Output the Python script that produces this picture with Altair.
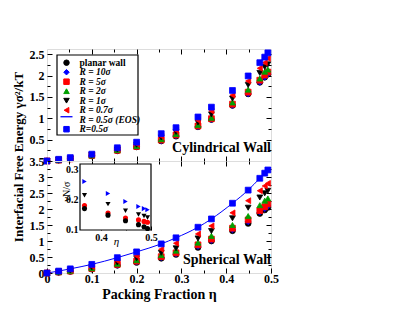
import altair as alt
import pandas as pd

FONT = "Liberation Serif"

# packing fractions of the simulation points
ETA = [0.0, 0.026, 0.052, 0.1, 0.157, 0.2, 0.255, 0.288, 0.337, 0.367, 0.414, 0.449, 0.475, 0.486, 0.493]

SERIES = ["planar wall", "R = 10σ", "R = 5σ", "R = 2σ", "R = 1σ", "R = 0.7σ", "R = 0.5σ (EOS)", "R=0.5σ"]
COLORS = ["#000000", "#0000ff", "#ff0000", "#00a000", "#000000", "#ff0000", "#0000ff", "#0000ff"]
SHAPES = ["circle", "diamond", "square", "triangle-up", "triangle-down", "triangle-left", "stroke", "square"]
EOS_LABEL = "R = 0.5σ (EOS)"

# Cylindrical wall
CYL_PLANAR = [0, 0.02, 0.05, 0.12, 0.24, 0.33, 0.47, 0.58, 0.80, 0.97, 1.30, 1.57, 1.84, 1.96, 2.03]
CYL_R10 = [0, 0.02, 0.05, 0.12, 0.24, 0.34, 0.47, 0.59, 0.80, 0.97, 1.30, 1.57, 1.84, 1.96, 2.03]
CYL_R5 = [0, 0.02, 0.05, 0.13, 0.25, 0.34, 0.49, 0.61, 0.82, 0.99, 1.33, 1.61, 1.89, 2.01, 2.08]
CYL_R2 = [0, 0.02, 0.06, 0.13, 0.26, 0.35, 0.51, 0.63, 0.84, 1.01, 1.37, 1.67, 1.93, 2.09, 2.14]
CYL_R1 = [0, 0.03, 0.06, 0.14, 0.27, 0.38, 0.55, 0.68, 0.90, 1.09, 1.46, 1.78, 2.06, 2.20, 2.26]
CYL_R07 = [0, 0.03, 0.07, 0.15, 0.29, 0.40, 0.58, 0.72, 0.95, 1.17, 1.54, 1.87, 2.17, 2.30, 2.40]
CYL_R05 = [0, 0.04, 0.08, 0.16, 0.31, 0.44, 0.64, 0.78, 1.03, 1.26, 1.65, 1.99, 2.30, 2.43, 2.53]

# Spherical wall
SPH_PLANAR = [0, 0.02, 0.05, 0.12, 0.24, 0.33, 0.46, 0.58, 0.80, 1.00, 1.32, 1.55, 1.86, 1.97, 2.05]
SPH_R10 = [0, 0.02, 0.05, 0.13, 0.25, 0.34, 0.48, 0.60, 0.83, 1.02, 1.35, 1.60, 1.90, 2.01, 2.09]
SPH_R5 = [0, 0.03, 0.06, 0.14, 0.27, 0.37, 0.51, 0.63, 0.88, 1.06, 1.40, 1.66, 1.95, 2.07, 2.16]
SPH_R2 = [0, 0.03, 0.07, 0.15, 0.29, 0.40, 0.56, 0.70, 0.95, 1.16, 1.50, 1.78, 2.12, 2.26, 2.33]
SPH_R1 = [0, 0.04, 0.08, 0.18, 0.33, 0.46, 0.63, 0.77, 1.08, 1.31, 1.71, 2.04, 2.36, 2.49, 2.57]
SPH_R07 = [0, 0.05, 0.10, 0.21, 0.38, 0.53, 0.74, 0.93, 1.22, 1.47, 1.88, 2.26, 2.57, 2.72, 2.80]
SPH_R05 = [0, 0.06, 0.13, 0.27, 0.48, 0.66, 0.91, 1.10, 1.43, 1.69, 2.18, 2.59, 2.96, 3.12, 3.22]

# EOS curve for R = 0.5 sigma (spherical)
EOS_ETA = [0.0, 0.026, 0.052, 0.1, 0.157, 0.2, 0.255, 0.288, 0.337, 0.367, 0.414, 0.449, 0.475, 0.486, 0.493, 0.5]
EOS_VAL = [0, 0.06, 0.13, 0.27, 0.48, 0.66, 0.91, 1.10, 1.43, 1.69, 2.18, 2.59, 2.96, 3.12, 3.22, 3.30]

# Inset
IN_ETA = [0.367, 0.414, 0.449, 0.475, 0.486, 0.493]
IN_BLUE = [0.261, 0.221, 0.194, 0.177, 0.170, 0.166]
IN_BLACK_TRI = [0.215, 0.185, 0.163, 0.150, 0.145, 0.140]
IN_RED = [0.180, 0.155, 0.138, 0.132, 0.127, 0.124]
IN_BLACK_CIRC = [0.170, 0.148, 0.129, 0.116, 0.109, 0.103]
IN_SERIES = ["a", "b", "c", "d"]
IN_COLORS = ["#0000ff", "#000000", "#ff0000", "#000000"]
IN_SHAPES = ["triangle-right", "triangle-down", "circle", "circle"]

X_LABELS = [0, 0.1, 0.2, 0.3, 0.4, 0.5]
X_MAJOR = [0.1, 0.2, 0.3, 0.4]
X_MINOR = [0.05, 0.15, 0.25, 0.35, 0.45]
TOP_LABELS = [0.5, 1, 1.5, 2, 2.5]
TOP_MINOR = [0.25, 0.75, 1.25, 1.75, 2.25]
BOT_LABELS = [0, 0.5, 1, 1.5, 2, 2.5, 3, 3.5]
BOT_MAJOR = [0.5, 1, 1.5, 2, 2.5, 3]
BOT_MINOR = [0.25, 0.75, 1.25, 1.75, 2.25, 2.75, 3.25]

W, H = 224, 112
TOP_DOM = [0, 2.62]
BOT_DOM = [0, 3.5]


def long_df(cols):
    rows = []
    for name, vals in cols:
        for e, v in zip(ETA, vals):
            rows.append({"eta": e, "val": v, "series": name})
    return pd.DataFrame(rows)


cyl_df = long_df([("planar wall", CYL_PLANAR), ("R = 10σ", CYL_R10), ("R = 5σ", CYL_R5),
                  ("R = 2σ", CYL_R2), ("R = 1σ", CYL_R1), ("R = 0.7σ", CYL_R07), ("R=0.5σ", CYL_R05)])
sph_df = long_df([("planar wall", SPH_PLANAR), ("R = 10σ", SPH_R10), ("R = 5σ", SPH_R5),
                  ("R = 2σ", SPH_R2), ("R = 1σ", SPH_R1), ("R = 0.7σ", SPH_R07), ("R=0.5σ", SPH_R05)])
eos_df = pd.DataFrame({"eta": EOS_ETA, "val": EOS_VAL})
in_rows = []
for name, vals in zip(IN_SERIES, [IN_BLUE, IN_BLACK_TRI, IN_RED, IN_BLACK_CIRC]):
    for e, v in zip(IN_ETA, vals):
        in_rows.append({"eta": e, "val": v, "series": name})
in_df = pd.DataFrame(in_rows)
leg_df = pd.DataFrame({"series": SERIES})


def tick_axis(orient, values, size, labeled=False, **kw):
    d = dict(orient=orient, values=values, tickSize=size, offset=-size, domain=False,
             grid=False, labels=labeled, ticks=True, tickColor="black", tickWidth=1,
             title=None, labelFlush=False, labelOverlap=False)
    if labeled:
        d.update(labelFont=FONT, labelFontSize=12, labelFontWeight="bold",
                 labelColor="black", format="~g")
    d.update(kw)
    return alt.Axis(**d)


def xenc(axis, dom=(0, 0.5)):
    return alt.X("eta:Q", scale=alt.Scale(domain=list(dom), nice=False, zero=False), axis=axis)


def yenc(dom, axis):
    return alt.Y("val:Q", scale=alt.Scale(domain=list(dom), nice=False, zero=False), axis=axis)


def dummy(df, dom, xaxis, yaxis):
    return alt.Chart(df).mark_point(opacity=0).encode(x=xenc(xaxis), y=yenc(dom, yaxis))


def series_enc():
    return dict(
        fill=alt.Fill("series:N", scale=alt.Scale(domain=SERIES, range=COLORS), legend=None),
        stroke=alt.Stroke("series:N", scale=alt.Scale(domain=SERIES, range=COLORS), legend=None),
        shape=alt.Shape("series:N", scale=alt.Scale(domain=SERIES, range=SHAPES), legend=None),
    )


def points(df, dom, xaxis, yaxis):
    return alt.Chart(df).mark_point(filled=True, size=34, strokeWidth=0.8, opacity=1).encode(
        x=xenc(xaxis), y=yenc(dom, yaxis), **series_enc())


def label_text(txt, x, y, **kw):
    return alt.Chart(pd.DataFrame({"t": [txt]})).mark_text(font=FONT, fontWeight="bold", color="black", **kw).encode(
        text="t:N", x=alt.value(x), y=alt.value(y))


# ---------------- manual legend (top panel) ----------------
leg_y = alt.Y("series:N", scale=alt.Scale(domain=SERIES, range=[13.7, 80.2], padding=0), axis=None)
leg_box = alt.Chart(pd.DataFrame({"k": [0]})).mark_rect(
    fill="white", stroke="black", strokeWidth=1.2).encode(
    x=alt.value(10), x2=alt.value(91), y=alt.value(6), y2=alt.value(86))
leg_sym = alt.Chart(leg_df).transform_filter(alt.datum.series != EOS_LABEL).mark_point(
    filled=True, size=30, strokeWidth=1, opacity=1).encode(
    x=alt.value(19.5), y=leg_y, **series_enc())
leg_line = alt.Chart(leg_df).transform_filter(alt.datum.series == EOS_LABEL).mark_rule(
    color="#0000ff", strokeWidth=1.3).encode(x=alt.value(13.5), x2=alt.value(25.5), y=leg_y)
leg_txt_plain = alt.Chart(leg_df).transform_filter(alt.datum.series == "planar wall").mark_text(
    font=FONT, fontWeight="bold", fontSize=9.5, align="left", baseline="middle", color="black").encode(
    x=alt.value(32.5), y=leg_y, text="series:N")
leg_txt_ital = alt.Chart(leg_df).transform_filter(alt.datum.series != "planar wall").mark_text(
    font=FONT, fontWeight="bold", fontStyle="italic", fontSize=9.5, align="left", baseline="middle",
    color="black").encode(x=alt.value(32.5), y=leg_y, text="series:N")

# ---------------- top panel (cylindrical) ----------------
top = alt.layer(
    points(cyl_df, TOP_DOM,
           tick_axis("bottom", X_MAJOR, 5),
           tick_axis("left", TOP_LABELS, 5, labeled=True, labelPadding=3)),
    dummy(cyl_df, TOP_DOM, tick_axis("top", X_MAJOR, 5), tick_axis("right", TOP_LABELS, 5)),
    dummy(cyl_df, TOP_DOM, tick_axis("bottom", X_MINOR, 3), tick_axis("left", TOP_MINOR, 3)),
    dummy(cyl_df, TOP_DOM, tick_axis("top", X_MINOR, 3), tick_axis("right", TOP_MINOR, 3)),
    leg_box, leg_sym, leg_line, leg_txt_plain, leg_txt_ital,
    label_text("Cylindrical Wall", W, 103, align="right", baseline="alphabetic", fontSize=14),
).resolve_scale(x="independent", y="independent").properties(width=W, height=H)

# ---------------- bottom panel (spherical) ----------------
in_x = alt.Scale(domain=[0.358, 0.5], range=[33, 104], nice=False, zero=False)
in_y = alt.Scale(domain=[0.098, 0.32], range=[69, 3], nice=False, zero=False)

inset_axis_kw = dict(labelFont=FONT, labelFontSize=10, labelFontWeight="bold", labelColor="black",
                     format="~g")

inset_pts = alt.Chart(in_df).mark_point(filled=True, size=26, opacity=1).encode(
    x=alt.X("eta:Q", scale=in_x, axis=alt.Axis(
        orient="bottom", values=[0.4, 0.5], tickSize=4, offset=-47, domain=False, grid=False,
        tickColor="black", labelPadding=2, labelFlush=False, labelOverlap=False,
        title="η", titleFont=FONT, titleFontSize=11, titleFontStyle="italic",
        titleFontWeight="normal", titleX=69, titleY=15, titleBaseline="middle", **inset_axis_kw)),
    y=alt.Y("val:Q", scale=in_y, axis=alt.Axis(
        orient="left", values=[0.1, 0.2, 0.3], tickSize=4, offset=-37, domain=False, grid=False,
        tickColor="black", labelPadding=2, labelFlush=False, labelOverlap=False,
        title="νN/σ", titleFont=FONT, titleFontSize=10, titleFontWeight="normal",
        titleX=-18, titleY=30, titleAngle=270, titleBaseline="middle", **inset_axis_kw)),
    fill=alt.Fill("series:N", scale=alt.Scale(domain=IN_SERIES, range=IN_COLORS), legend=None),
    shape=alt.Shape("series:N", scale=alt.Scale(domain=IN_SERIES, range=IN_SHAPES), legend=None),
)
inset_minor = alt.Chart(in_df).mark_point(opacity=0).encode(
    x=alt.X("eta:Q", scale=in_x, axis=alt.Axis(orient="bottom", values=[0.45], tickSize=2.5,
            offset=-45.5, domain=False, grid=False, labels=False, title=None, tickColor="black")),
    y=alt.Y("val:Q", scale=in_y, axis=alt.Axis(orient="left", values=[0.15, 0.25], tickSize=2.5,
            offset=-35.5, domain=False, grid=False, labels=False, title=None, tickColor="black")),
)
inset_frame = alt.Chart(pd.DataFrame({"k": [0]})).mark_rect(
    fill="white", stroke="black", strokeWidth=1.2).encode(
    x=alt.value(33), x2=alt.value(104), y=alt.value(3), y2=alt.value(69))

eos_line = alt.Chart(eos_df).mark_line(color="#0000ff", strokeWidth=1, interpolate="monotone").encode(
    x=xenc(tick_axis("bottom", X_LABELS, 5, labeled=True, labelPadding=0,
                     title="Packing Fraction η", titleFont=FONT, titleFontSize=14,
                     titleFontWeight="bold", titleColor="black", titleX=112, titleY=26,
                     titleBaseline="middle")),
    y=yenc(BOT_DOM, tick_axis("left", BOT_LABELS, 5, labeled=True, labelPadding=3)),
)

bottom = alt.layer(
    eos_line,
    points(sph_df, BOT_DOM, None, None),
    dummy(sph_df, BOT_DOM, tick_axis("top", X_MAJOR, 5), tick_axis("right", BOT_MAJOR, 5)),
    dummy(sph_df, BOT_DOM, tick_axis("bottom", X_MINOR, 3), tick_axis("left", BOT_MINOR, 3)),
    dummy(sph_df, BOT_DOM, tick_axis("top", X_MINOR, 3), tick_axis("right", BOT_MINOR, 3)),
    inset_frame,
    inset_pts,
    inset_minor,
    label_text("Spherical Wall", W, 103, align="right", baseline="alphabetic", fontSize=14),
    label_text("Interfacial Free Energy γσ²/kT", -28, -4, align="center", baseline="middle",
               fontSize=13, angle=270),
).resolve_scale(x="independent", y="independent", fill="independent", stroke="independent",
                shape="independent").properties(width=W, height=H)

chart = alt.vconcat(top, bottom, spacing=0, bounds="flush").resolve_scale(
    x="independent", y="independent", fill="independent", stroke="independent", shape="independent"
).properties(
    padding={"left": 4, "top": 39, "right": 5, "bottom": 5}
).configure_view(stroke="black", strokeWidth=1.5).configure(background="white")

chart.save("out.html", embed_options={"renderer": "svg", "actions": False})
